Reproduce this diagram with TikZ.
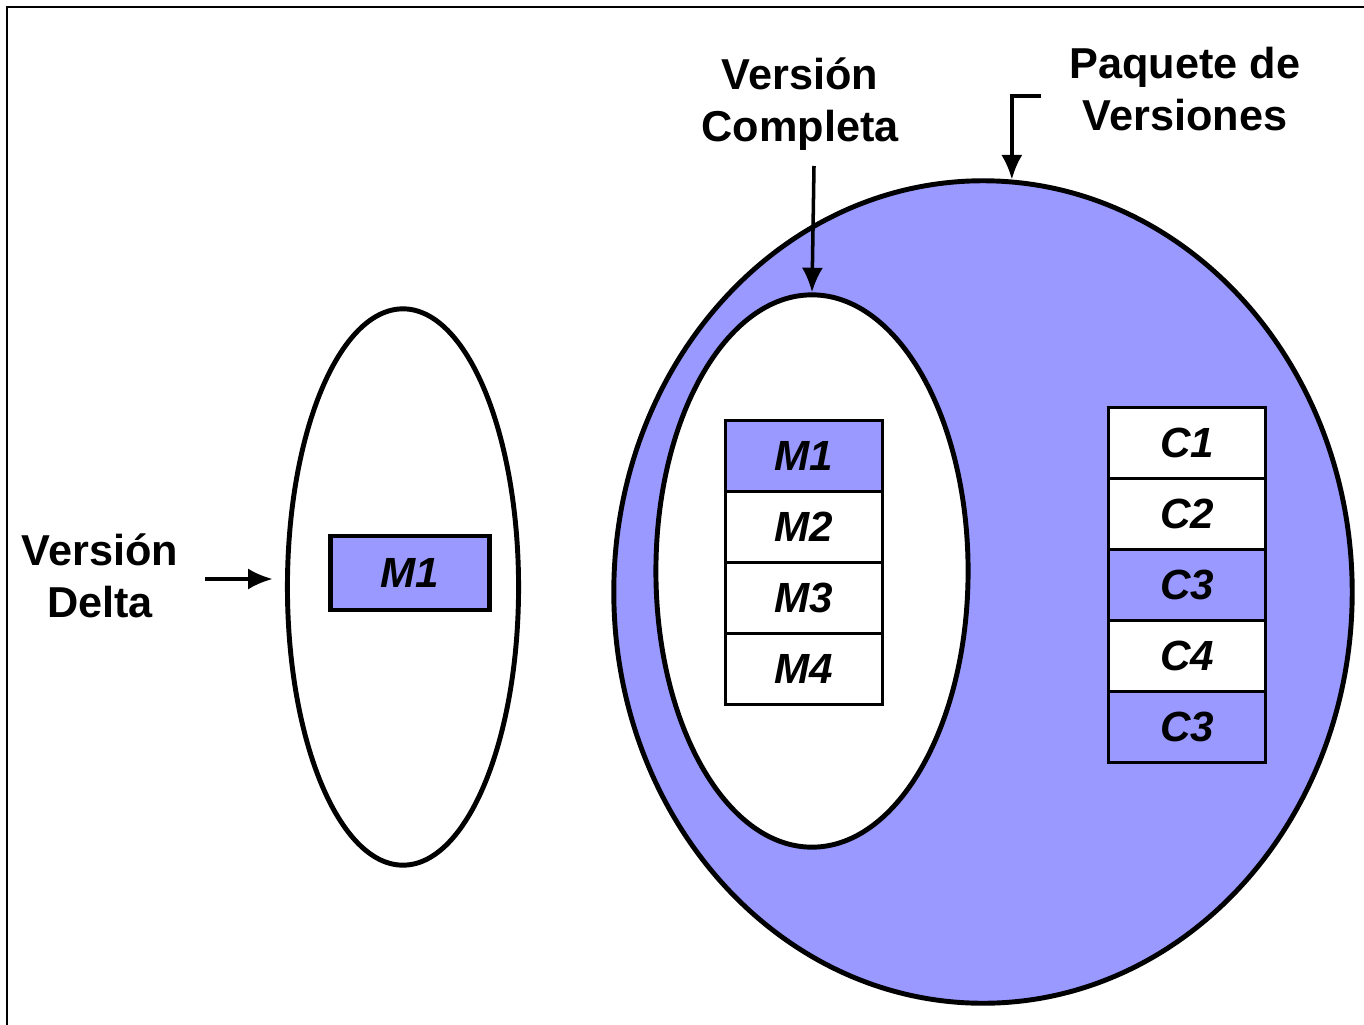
\documentclass[tikz,border=0pt]{standalone}
\usepackage{fontspec}
\setmainfont{Liberation Sans}
\usepackage{tikz}
\usetikzlibrary{arrows.meta}
\usetikzlibrary{shapes.geometric}
\definecolor{pkgblue}{RGB}{153,153,255}
\tikzset{>={Latex[length=7pt,width=6pt]},
    label text/.style={font=\fontsize{12.3}{14.8}\selectfont\bfseries, align=center},
    version/.style={shape=ellipse, draw=black, line width=1.4pt, inner sep=0pt},
    modbox/.style={shape=rectangle, draw=black, line width=0.9pt, minimum width=1.57cm, minimum height=0.71cm, inner sep=0pt, font=\fontsize{12}{12}\selectfont\bfseries\itshape},
    filled/.style={fill=pkgblue},
    empty/.style={fill=white}}

\begin{document}
\begin{tikzpicture}[x=0.01cm, y=-0.01cm]
            
                \useasboundingbox (0,0) rectangle (1364,1024);
                \draw[line width=0.6pt] (7,1040) -- (7,7) -- (1380,7);
            
                \node[version, fill=white, minimum width=2.31cm, minimum height=5.56cm] (delta) at (403,587) {};
                \node[version, fill=pkgblue, minimum width=7.38cm, minimum height=8.22cm] (pkg) at (983,592) {};
                \node[version, fill=white, minimum width=3.12cm, minimum height=5.52cm] (full) at (812,571) {};
            
                \node[modbox, filled, line width=1.3pt, minimum width=1.59cm, minimum height=0.74cm] (dm1) at (410,573) {M1};
            
                \node[modbox, filled] (m1) at (804,456) {M1};
                \node[modbox, empty] (m2) at (804,527) {M2};
                \node[modbox, empty] (m3) at (804,598) {M3};
                \node[modbox, empty] (m4) at (804,669) {M4};
            
                \node[modbox, empty] (c1) at (1187,443) {C1};
                \node[modbox, empty] (c2) at (1187,514) {C2};
                \node[modbox, filled] (c3) at (1187,585) {C3};
                \node[modbox, empty] (c4) at (1187,656) {C4};
                \node[modbox, filled] (c5) at (1187,727) {C3};
            
                \node[label text] (lbldelta) at (100,576) {Versión\\Delta};
                \node[label text] (lblfull) at (800,104) {Versión\\Completa};
                \node[label text] (lblpkg) at (1185,89) {Paquete de\\Versiones};
            
                \coordinate (deltastart) at (205,579);
                \coordinate (fullstart) at (814,166);
                \coordinate (pkgstart) at (1041,96);
            
                \draw[->, line width=1pt, shorten >=3.5pt] (deltastart) -- (deltastart -| delta.west);
                \draw[->, line width=1pt] (fullstart) -- (full.north);
                \draw[->, line width=1pt] (pkgstart) -| (pkg.86);
        
            \end{tikzpicture}
\end{document}
